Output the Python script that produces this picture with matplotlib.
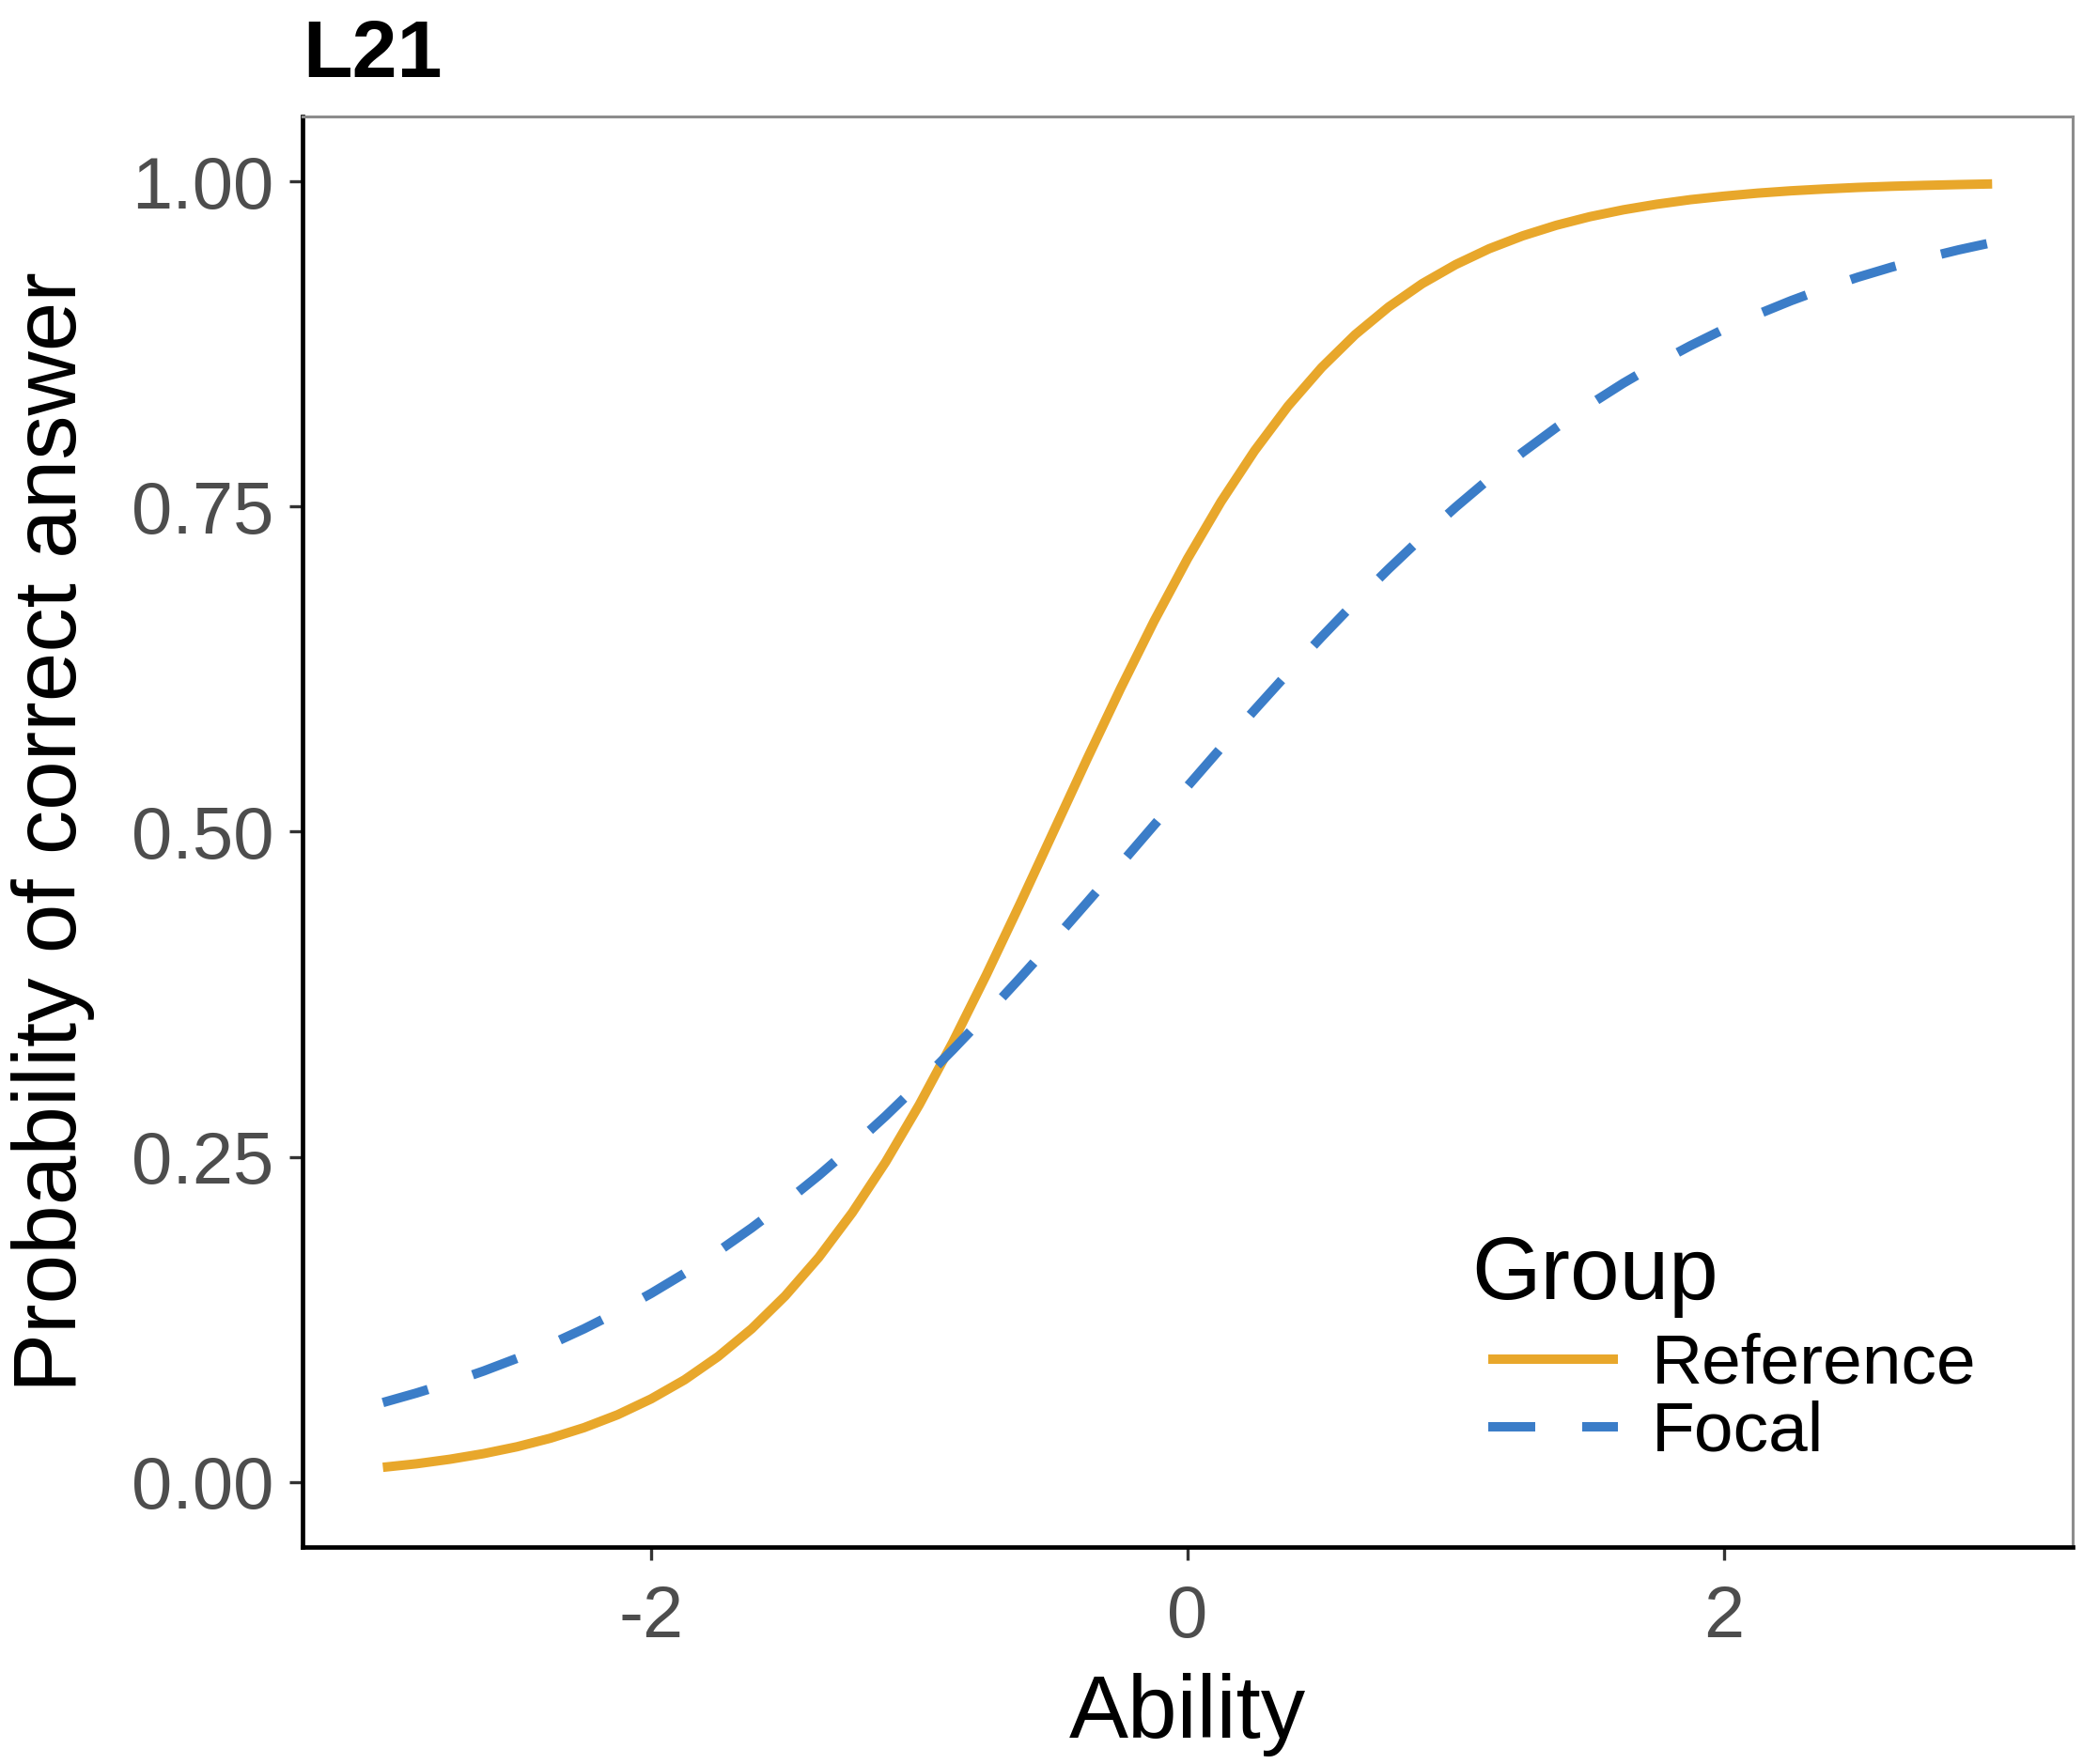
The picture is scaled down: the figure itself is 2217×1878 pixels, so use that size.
import matplotlib
matplotlib.use('Agg')
import matplotlib.pyplot as plt
from matplotlib.lines import Line2D

plt.rcParams['font.family'] = ['Liberation Sans', 'DejaVu Sans']

# Valores (curvas caracteristicas del item L21)
ability = [-3.0, -2.875, -2.75, -2.625, -2.5, -2.375, -2.25, -2.125,
           -2.0, -1.875, -1.75, -1.625, -1.5, -1.375, -1.25, -1.125,
           -1.0, -0.875, -0.75, -0.625, -0.5, -0.375, -0.25, -0.125,
           0.0, 0.125, 0.25, 0.375, 0.5, 0.625, 0.75, 0.875,
           1.0, 1.125, 1.25, 1.375, 1.5, 1.625, 1.75, 1.875,
           2.0, 2.125, 2.25, 2.375, 2.5, 2.625, 2.75, 2.875, 3.0]
p_reference = [0.0113, 0.0140, 0.0175, 0.0218, 0.0271, 0.0337, 0.0418, 0.0517,
               0.0639, 0.0786, 0.0965, 0.1178, 0.1431, 0.1727, 0.2071, 0.2462,
               0.2901, 0.3382, 0.3900, 0.4443, 0.5000, 0.5557, 0.6100, 0.6618,
               0.7099, 0.7538, 0.7929, 0.8273, 0.8569, 0.8822, 0.9035, 0.9214,
               0.9361, 0.9483, 0.9582, 0.9663, 0.9729, 0.9782, 0.9825, 0.9860,
               0.9887, 0.9910, 0.9928, 0.9942, 0.9954, 0.9963, 0.9970, 0.9976, 0.9981]
p_focal = [0.0611, 0.0684, 0.0764, 0.0853, 0.0951, 0.1059, 0.1178, 0.1308,
           0.1450, 0.1605, 0.1773, 0.1954, 0.2149, 0.2357, 0.2580, 0.2815,
           0.3064, 0.3324, 0.3594, 0.3874, 0.4161, 0.4455, 0.4751, 0.5050,
           0.5349, 0.5645, 0.5936, 0.6221, 0.6498, 0.6766, 0.7021, 0.7265,
           0.7496, 0.7714, 0.7918, 0.8108, 0.8285, 0.8449, 0.8599, 0.8737,
           0.8864, 0.8978, 0.9083, 0.9178, 0.9264, 0.9341, 0.9411, 0.9474, 0.9530]
y_ticks = [0.0, 0.25, 0.5, 0.75, 1.0]
y_tick_labels = ['0.00', '0.25', '0.50', '0.75', '1.00']
x_ticks = [-2, 0, 2]
x_tick_labels = ['-2', '0', '2']

color_ref = '#E8A72B'
color_foc = '#3B7DC8'

fig = plt.figure(figsize=(2217 / 200, 1878 / 200), dpi=200)
ax = fig.add_axes([0.1452, 0.1230, 0.8498, 0.8110])

ax.plot(ability, p_reference, color=color_ref, lw=3.6, label='Reference',
        solid_capstyle='butt', solid_joinstyle='round')
ax.plot(ability, p_focal, color=color_foc, lw=3.6, ls=(0, (5, 5)), label='Focal',
        dash_capstyle='butt')

ax.set_xlim(-3.3, 3.3)
ax.set_ylim(-0.05, 1.05)
ax.set_xticks(x_ticks)
ax.set_xticklabels(x_tick_labels)
ax.set_yticks(y_ticks)
ax.set_yticklabels(y_tick_labels)
ax.tick_params(axis='both', labelsize=28, labelcolor='#4D4D4D', color='#333333',
               length=5, width=1.2)
ax.tick_params(axis='y', pad=6)
ax.tick_params(axis='x', pad=9)

for s in ['left', 'bottom']:
    ax.spines[s].set_color('black')
    ax.spines[s].set_linewidth(1.7)
for s in ['top', 'right']:
    ax.spines[s].set_color('#8C8C8C')
    ax.spines[s].set_linewidth(1.1)

ax.set_xlabel('Ability', fontsize=34, labelpad=8)
ax.set_ylabel('Probability of correct answer', fontsize=34, labelpad=14)
ax.set_title('L21', loc='left', fontsize=31, fontweight='bold', pad=15)

# Leyenda estilo ggplot: titulo aparte y las dos lineas debajo
ax.text(0.6607, 0.1736, 'Group', transform=ax.transAxes, fontsize=34,
        ha='left', va='baseline')
leg = ax.legend(loc='center left', bbox_to_anchor=(0.6697, 0.1035),
                frameon=False, fontsize=27, borderpad=0,
                handlelength=1.84, handletextpad=0.48, labelspacing=0.04,
                borderaxespad=0)

plt.savefig('out.png', dpi=200)
plt.close()
